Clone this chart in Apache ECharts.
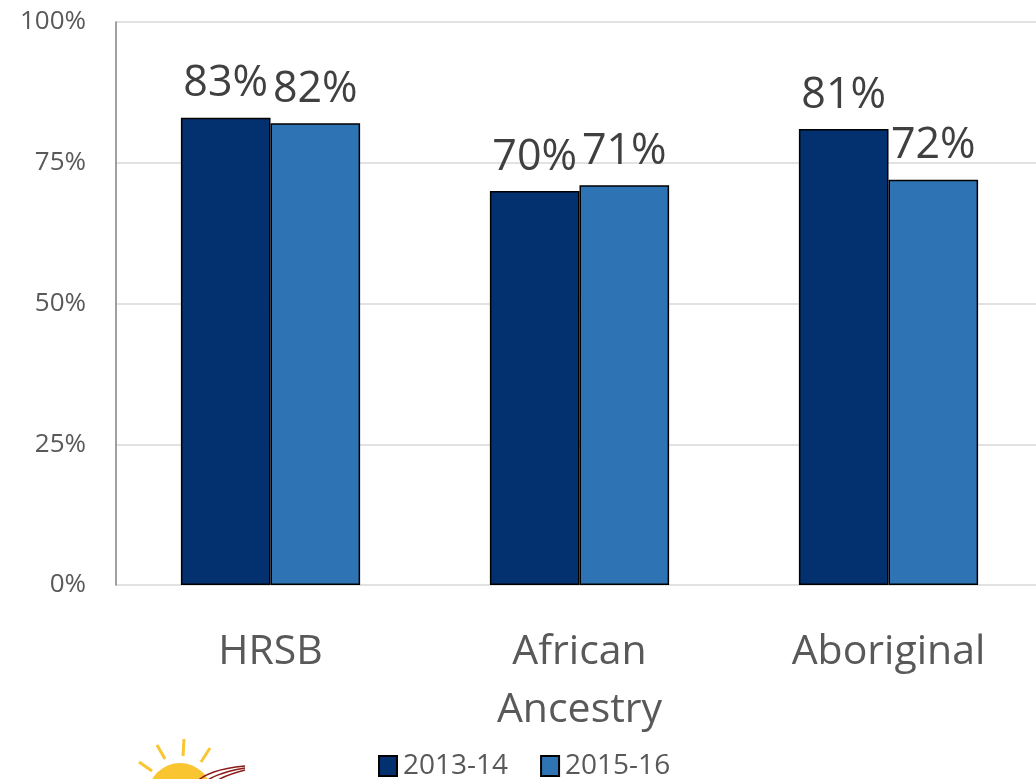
<!DOCTYPE html>
<html>
<head>
<meta charset="utf-8">
<script src="https://cdn.jsdelivr.net/npm/echarts@6/dist/echarts.min.js"></script>
<style>
  html, body { margin: 0; padding: 0; background: #fff; overflow: hidden; }
  #chart { width: 1043px; height: 779px; }
</style>
</head>
<body>
<div id="chart"></div>
<script>
// categories and values (percent)
const categories = ["HRSB", "African\nAncestry", "Aboriginal"];
const seriesNames = ["2013-14", "2015-16"];
const values2013 = [83, 70, 81];
const values2015 = [82, 71, 72];
const yTicks = [0, 25, 50, 75, 100];

const font = "'Open Sans', 'Noto Sans', sans-serif";

const myChart = echarts.init(document.getElementById("chart"));

const labelStyle = {
  show: true,
  position: "top",
  distance: 12,
  formatter: "{c}%",
  fontSize: 43,
  fontFamily: font,
  color: "#404040",
};

myChart.setOption({
  animation: false,
  // plot runs slightly past the right edge of the 1036px window
  grid: { left: 116, right: 0, top: 22, bottom: 194, containLabel: false },
  legend: {
    bottom: -1,
    left: 378,
    padding: 0,
    itemWidth: 18,
    itemHeight: 20,
    itemGap: 32,
    icon: "rect",
    textStyle: { fontSize: 28, fontFamily: font, color: "#595959", padding: [0, 0, 0, 1] },
    data: seriesNames,
  },
  xAxis: {
    type: "category",
    data: categories,
    axisLine: { show: false },
    axisTick: { show: false },
    axisLabel: {
      fontSize: 41,
      fontFamily: font,
      color: "#595959",
      margin: 38,
      lineHeight: 58,
    },
  },
  yAxis: {
    type: "value",
    min: yTicks[0],
    max: yTicks[yTicks.length - 1],
    interval: 25,
    axisLine: { show: true, lineStyle: { color: "#808080", width: 1.5 } },
    axisTick: { show: false },
    splitLine: { lineStyle: { color: "#d9d9d9", width: 1.5 } },
    axisLabel: {
      formatter: "{value}%",
      fontSize: 26,
      fontFamily: font,
      color: "#595959",
      margin: 30,
    },
  },
  series: [
    {
      name: seriesNames[0],
      type: "bar",
      data: values2013,
      barGap: "0%",
      barCategoryGap: "42%",
      itemStyle: { color: "#03306f", borderColor: "#000", borderWidth: 1.5 },
      label: labelStyle,
    },
    {
      name: seriesNames[1],
      type: "bar",
      data: values2015,
      itemStyle: { color: "#2e73b4", borderColor: "#000", borderWidth: 1.5 },
      label: labelStyle,
    },
  ],
  // partial logo at bottom-left
  graphic: [
    { type: "circle", shape: { cx: 180, cy: 795, r: 32 }, style: { fill: "#f9c531" }, z: 1 },
    { type: "line", shape: { x1: 139, y1: 762, x2: 152, y2: 771 }, style: { stroke: "#f9c531", lineWidth: 3 } },
    { type: "line", shape: { x1: 157, y1: 745, x2: 165, y2: 759 }, style: { stroke: "#f9c531", lineWidth: 3 } },
    { type: "line", shape: { x1: 184, y1: 739, x2: 183, y2: 756 }, style: { stroke: "#f9c531", lineWidth: 3 } },
    { type: "line", shape: { x1: 210, y1: 748, x2: 201, y2: 762 }, style: { stroke: "#f9c531", lineWidth: 3 } },
    { type: "bezierCurve", shape: { x1: 190, y1: 790, x2: 245, y2: 766, cpx1: 200, cpy1: 772, cpx2: 225, cpy2: 768 }, style: { stroke: "#8b1a1a", lineWidth: 1.5, fill: null }, z: 2 },
    { type: "bezierCurve", shape: { x1: 196, y1: 792, x2: 245, y2: 768, cpx1: 205, cpy1: 776, cpx2: 228, cpy2: 771 }, style: { stroke: "#8b1a1a", lineWidth: 1.5, fill: null }, z: 2 },
    { type: "bezierCurve", shape: { x1: 202, y1: 795, x2: 245, y2: 770, cpx1: 210, cpy1: 780, cpx2: 230, cpy2: 774 }, style: { stroke: "#8b1a1a", lineWidth: 1.5, fill: null }, z: 2 },
  ],
});
</script>
</body>
</html>
